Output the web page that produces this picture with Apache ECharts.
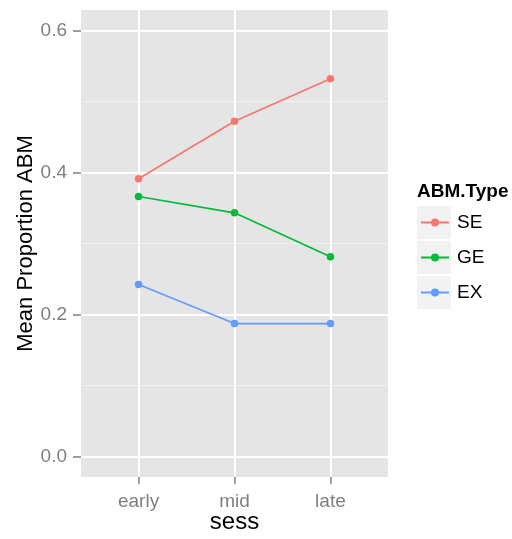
<!DOCTYPE html>
<html>
<head>
<meta charset="utf-8">
<script src="https://cdn.jsdelivr.net/npm/echarts@6/dist/echarts.min.js"></script>
<style>
  html, body { margin: 0; padding: 0; background: #fff; }
  #chart { width: 512px; height: 539px; }
</style>
</head>
<body>
<div id="chart"></div>
<script>
  // sessions on the x axis
  var sess = ['early', 'mid', 'late'];
  var types = ['SE', 'GE', 'EX'];
  // mean proportion per ABM type
  var seVals = [0.391, 0.472, 0.532];
  var geVals = [0.366, 0.343, 0.281];
  var exVals = [0.242, 0.187, 0.187];
  var yTicks = [0, 0.2, 0.4, 0.6];
  var yMinor = [0.1, 0.3, 0.5];
  var colors = ['#F8766D', '#00BA38', '#619CFF'];

  var font = 'Liberation Sans, Arial, Helvetica, sans-serif';
  var yMin = -0.0292, yMax = 0.6288;

  function pts(vals) {
    return vals.map(function (v, i) { return [i + 1, v]; });
  }

  // grey boxes behind the legend keys (ggplot style)
  var keyBoxes = types.map(function (t, i) {
    return {
      type: 'rect',
      left: 417,
      top: 206 + i * 35,
      shape: { width: 34, height: 33 },
      style: { fill: '#F2F2F2' },
      z: -1
    };
  });

  var dom = echarts.init(document.getElementById('chart'));
  var option = {
    animation: false,
    textStyle: { fontFamily: font },
    title: {
      text: 'ABM.Type',
      left: 412,
      top: 177,
      textStyle: { fontSize: 19, fontWeight: 'bold', color: '#000', fontFamily: font }
    },
    graphic: keyBoxes,
    legend: {
      orient: 'vertical',
      left: 420,
      top: 213,
      padding: 0,
      itemWidth: 28,
      itemHeight: 10,
      itemGap: 16,
      data: types,
      textStyle: { fontSize: 19, color: '#000', fontFamily: font, padding: [0, 0, 0, 3] }
    },
    grid: {
      left: 81,
      right: 124,
      top: 10,
      bottom: 55,
      show: true,
      backgroundColor: '#E5E5E5',
      borderWidth: 0
    },
    xAxis: {
      type: 'value',
      min: 0.4,
      max: 3.6,
      name: 'sess',
      nameLocation: 'middle',
      nameGap: 33,
      nameMoveOverlap: false,
      nameTextStyle: { fontSize: 24, color: '#000', fontFamily: font },
      axisLine: { show: false, onZero: false },
      axisTick: { show: true, customValues: [1, 2, 3], length: 7, lineStyle: { color: '#7F7F7F', width: 1.5 } },
      axisLabel: {
        customValues: [1, 2, 3],
        margin: 15,
        fontSize: 19,
        color: '#7F7F7F',
        formatter: function (v) { return sess[Math.round(v) - 1]; }
      },
      splitLine: { show: true, lineStyle: { color: '#FFFFFF', width: 2 } }
    },
    yAxis: [{
      type: 'value',
      min: yMin,
      max: yMax,
      name: 'Mean Proportion ABM',
      nameLocation: 'middle',
      nameGap: 44,
      nameMoveOverlap: false,
      nameTextStyle: { fontSize: 22, color: '#000', fontFamily: font },
      axisLine: { show: false, onZero: false },
      axisTick: { show: true, customValues: yTicks, length: 8, lineStyle: { color: '#7F7F7F', width: 1.5 } },
      axisLabel: {
        customValues: yTicks,
        margin: 14,
        fontSize: 19,
        color: '#7F7F7F',
        formatter: function (v) { return v.toFixed(1); }
      },
      splitLine: { show: true, lineStyle: { color: '#FFFFFF', width: 2 } }
    }, {
      type: 'value',
      min: yMin,
      max: yMax,
      position: 'left',
      axisLine: { show: false, onZero: false },
      axisTick: { show: false, customValues: yMinor },
      axisLabel: { show: false, customValues: yMinor },
      splitLine: { show: true, lineStyle: { color: '#F2F2F2', width: 1 } }
    }],
    series: [
      { name: 'SE', data: pts(seVals) },
      { name: 'GE', data: pts(geVals) },
      { name: 'EX', data: pts(exVals) }
    ].map(function (s, i) {
      return {
        name: s.name,
        type: 'line',
        data: s.data,
        z: 5,
        symbol: 'circle',
        symbolSize: 7.5,
        color: colors[i],
        lineStyle: { width: 1.7, color: colors[i] },
        itemStyle: { color: colors[i] }
      };
    })
  };
  dom.setOption(option);
</script>
</body>
</html>
